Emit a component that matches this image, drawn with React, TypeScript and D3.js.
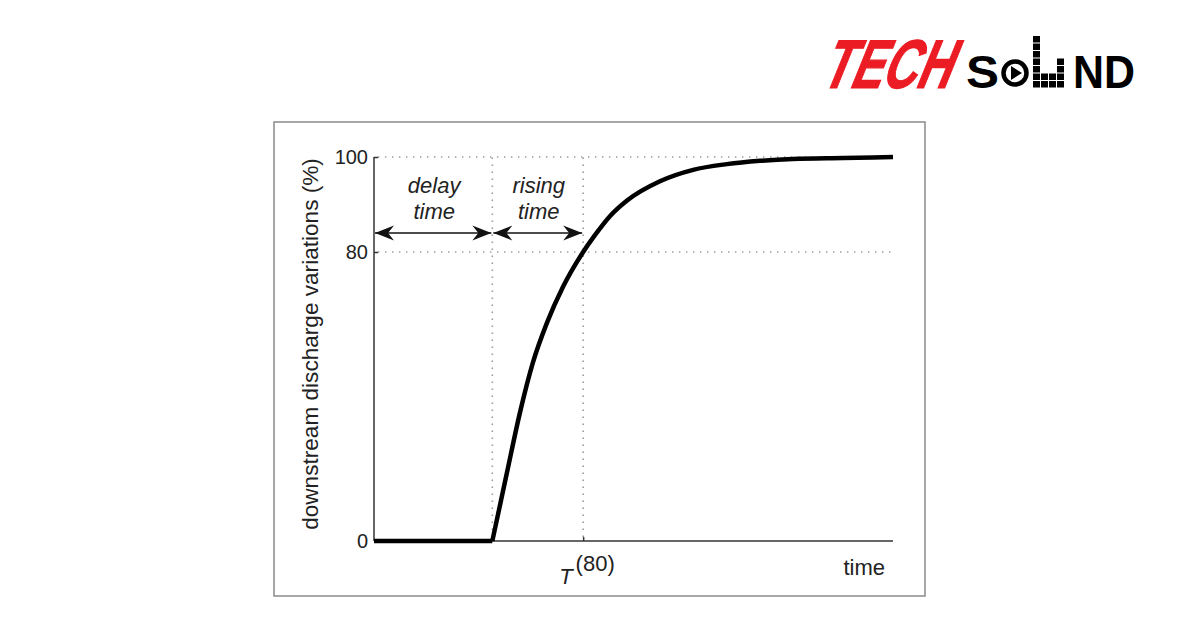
import React, { useEffect, useRef } from 'react';
import * as d3 from 'd3';

// curve (time in % of axis length, discharge in %)
const timeSteps = [0, 22.8, 25.6, 28.1, 30.6, 33.3, 36.4, 40.3, 42.6, 45.5, 48.7, 55.1, 61.5, 68.0, 74.4, 80.7, 90.4, 100];
const discharge = [0, 0, 18.8, 35.4, 49.3, 60.3, 70.3, 80, 83.6, 87.6, 90.8, 94.9, 97.3, 98.5, 99.2, 99.6, 99.8, 100];

const yTicks = [0, 80, 100];
const guideLevels = [80, 100];
const delayTime = 22.8;
const t80 = 40.3;
const arrowLevel = 84;

const W = 1200;
const H = 630;
const FONT = '"Liberation Sans", Arial, Helvetica, sans-serif';

const App: React.FC = () => {
  const svgRef = useRef<SVGSVGElement>(null);

  useEffect(() => {
    if (!svgRef.current) return;
    const svg = d3.select(svgRef.current);
    svg.selectAll('*').remove();

    svg.append('rect').attr('width', W).attr('height', H).attr('fill', '#fff');

    // ---- logo ----
    const logo = svg.append('g');
    logo.append('text')
      .attr('transform', 'translate(819,88) skewX(-22)')
      .attr('font-family', FONT)
      .attr('font-size', 69)
      .attr('font-weight', 900)
      .attr('fill', '#ec1c24')
      .attr('stroke', '#ec1c24')
      .attr('stroke-width', 1.2)
      .attr('textLength', 129)
      .attr('lengthAdjust', 'spacingAndGlyphs')
      .text('TECH');
    logo.append('text')
      .attr('x', 966).attr('y', 88)
      .attr('font-family', FONT)
      .attr('font-size', 46)
      .attr('font-weight', 700)
      .attr('fill', '#000')
      .attr('textLength', 33)
      .attr('lengthAdjust', 'spacingAndGlyphs')
      .text('S');
    logo.append('circle')
      .attr('cx', 1015).attr('cy', 73).attr('r', 11.5)
      .attr('fill', 'none').attr('stroke', '#000').attr('stroke-width', 4.5);
    logo.append('path')
      .attr('d', 'M1011,66 L1011,80 L1022,73 Z')
      .attr('fill', '#000');
    // equaliser "U"
    const colRows = [7, 2, 2, 4];
    colRows.forEach((n, c) => {
      d3.range(n).forEach(r => {
        logo.append('rect')
          .attr('x', 1033 + c * 8)
          .attr('y', 81 - r * 7.5)
          .attr('width', 7).attr('height', 6.5)
          .attr('fill', '#000');
      });
    });
    logo.append('text')
      .attr('x', 1073).attr('y', 88)
      .attr('font-family', FONT)
      .attr('font-size', 46)
      .attr('font-weight', 700)
      .attr('fill', '#000')
      .attr('textLength', 62)
      .attr('lengthAdjust', 'spacingAndGlyphs')
      .text('ND');

    // ---- frame ----
    svg.append('rect')
      .attr('x', 274).attr('y', 122)
      .attr('width', 651).attr('height', 474)
      .attr('fill', 'none')
      .attr('stroke', '#8a8a8a')
      .attr('stroke-width', 1.5);

    const x = d3.scaleLinear().domain([0, 100]).range([374, 893]);
    const y = d3.scaleLinear().domain([0, 80, 100]).range([541, 252, 157]);

    const g = svg.append('g').attr('font-family', FONT);

    // dotted guides
    const dots = g.append('g')
      .attr('stroke', '#9a9a9a')
      .attr('stroke-width', 1.6)
      .attr('stroke-dasharray', '1.4 5.6')
      .attr('fill', 'none');
    guideLevels.forEach(v => {
      dots.append('line')
        .attr('x1', x(0) + 4).attr('x2', x(100))
        .attr('y1', y(v)).attr('y2', y(v));
    });
    [delayTime, t80].forEach(t => {
      dots.append('line')
        .attr('x1', x(t)).attr('x2', x(t))
        .attr('y1', y(0) - 4).attr('y2', y(100));
    });

    // axes
    const yAxis = g.append('g')
      .attr('transform', `translate(${x(0)},0)`)
      .call(d3.axisRight(y).tickValues(yTicks).tickSize(4).tickFormat(() => ''));
    yAxis.select('.domain').attr('stroke', '#333').attr('stroke-width', 1.5).attr('d', `M0,${y(0)}V${y(100)}`);
    yAxis.selectAll('.tick line').attr('stroke', '#333').attr('stroke-width', 1.5);

    yTicks.forEach(v => {
      g.append('text')
        .attr('x', x(0) - 6).attr('y', y(v))
        .attr('dy', '0.36em')
        .attr('text-anchor', 'end')
        .attr('font-size', 20)
        .attr('fill', '#222')
        .text(String(v));
    });

    const xAxis = g.append('g')
      .attr('transform', `translate(0,${y(0)})`)
      .call(d3.axisTop(x).tickValues([t80]).tickSize(4).tickFormat(() => ''));
    xAxis.select('.domain').attr('stroke', '#333').attr('stroke-width', 1.5).attr('d', `M${x(0)},0H${x(100)}`);
    xAxis.selectAll('.tick line').attr('stroke', '#333').attr('stroke-width', 1.5);

    // axis titles
    g.append('text')
      .attr('transform', 'translate(318,344) rotate(-90)')
      .attr('text-anchor', 'middle')
      .attr('font-size', 22.6)
      .attr('fill', '#222')
      .text('downstream discharge variations (%)');

    g.append('text')
      .attr('x', 885).attr('y', 575)
      .attr('text-anchor', 'end')
      .attr('font-size', 22)
      .attr('fill', '#222')
      .text('time');

    const tLabel = g.append('text')
      .attr('x', x(t80) - 24).attr('y', 584)
      .attr('fill', '#222');
    tLabel.append('tspan').attr('font-size', 22).attr('font-style', 'italic').text('T');
    tLabel.append('tspan').attr('font-size', 22).attr('dx', 3).attr('dy', -13).text('(80)');

    // arrows
    const defs = svg.append('defs');
    defs.append('marker')
      .attr('id', 'barb')
      .attr('viewBox', '-20 -8 21 16')
      .attr('refX', 0).attr('refY', 0)
      .attr('markerWidth', 21).attr('markerHeight', 16)
      .attr('markerUnits', 'userSpaceOnUse')
      .attr('orient', 'auto-start-reverse')
      .append('path')
      .attr('d', 'M0,0 L-19,-7.5 L-13,0 L-19,7.5 Z')
      .attr('fill', '#111');

    const spans: [number, number][] = [[0, delayTime], [delayTime, t80]];
    spans.forEach(([a, b]) => {
      g.append('line')
        .attr('x1', x(a) + 1).attr('x2', x(b) - 1)
        .attr('y1', y(arrowLevel)).attr('y2', y(arrowLevel))
        .attr('stroke', '#111')
        .attr('stroke-width', 1.6)
        .attr('marker-start', 'url(#barb)')
        .attr('marker-end', 'url(#barb)');
    });

    const spanLabels = [['delay', 'time'], ['rising', 'time']];
    spanLabels.forEach((lines, i) => {
      const [a, b] = spans[i];
      const t = g.append('text')
        .attr('text-anchor', 'middle')
        .attr('font-size', 22)
        .attr('font-style', 'italic')
        .attr('fill', '#222');
      lines.forEach((s, k) => {
        t.append('tspan')
          .attr('x', (x(a) + x(b)) / 2 + 1)
          .attr('y', 193 + k * 26)
          .text(s);
      });
    });

    // response curve
    const pts: [number, number][] = timeSteps.map((t, i) => [t, discharge[i]]);
    const flat = pts.filter(p => p[0] <= delayTime);
    const rise = pts.filter(p => p[0] >= delayTime);
    const lin = d3.line<[number, number]>().x(d => x(d[0])).y(d => y(d[1]));
    const smooth = d3.line<[number, number]>().x(d => x(d[0])).y(d => y(d[1])).curve(d3.curveMonotoneX);

    g.append('path')
      .attr('d', lin(flat) || '')
      .attr('fill', 'none').attr('stroke', '#000').attr('stroke-width', 4.5);
    g.append('path')
      .attr('d', smooth(rise) || '')
      .attr('fill', 'none').attr('stroke', '#000').attr('stroke-width', 4.5)
      .attr('stroke-linejoin', 'round');
  }, []);

  return (
    <svg
      ref={svgRef}
      width={W}
      height={H}
      style={{ position: 'absolute', left: 0, top: 0, display: 'block' }}
    />
  );
};

export default App;
